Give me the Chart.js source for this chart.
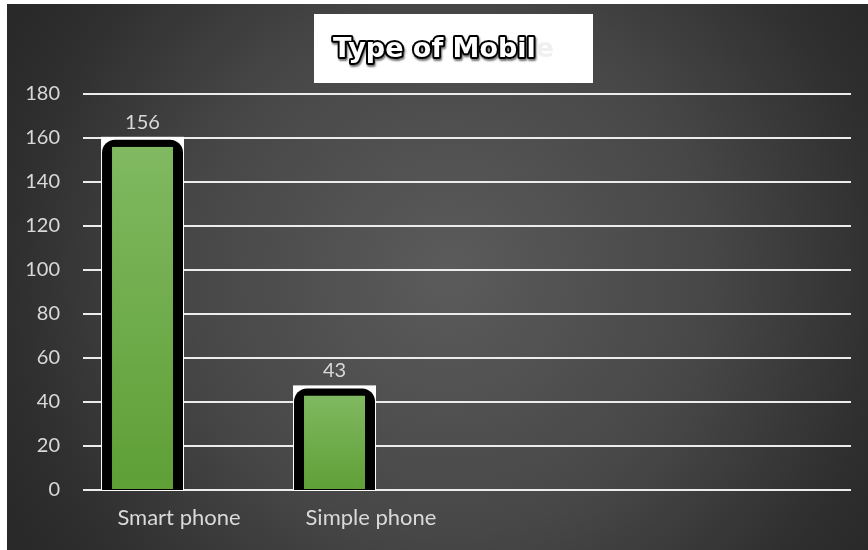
<!DOCTYPE html>
<html>
<head>
<meta charset="utf-8">
<script src="https://cdn.jsdelivr.net/npm/chart.js@4/dist/chart.umd.min.js"></script>
<style>
  html, body { margin: 0; padding: 0; background: #ffffff; }
  #wrap { position: absolute; left: 7px; top: 4px; width: 861px; height: 546px; }
</style>
</head>
<body>
<div id="wrap"><canvas id="c" width="861" height="546"></canvas></div>
<script>
// ---- data ----
const titleText = "Type of Mobile";
const categories = ["Smart phone", "Simple phone", "", ""];
const mobileCounts = [156, 43, null, null];
const spacerSeries = [null, null, null, null];
const yTicks = [0, 20, 40, 60, 80, 100, 120, 140, 160, 180];

const LABEL_FONT = 'Lato, "Open Sans", sans-serif';

const backgroundPlugin = {
  id: 'bg',
  beforeDraw(chart) {
    const ctx = chart.ctx, w = chart.width, h = chart.height;
    ctx.save();
    const g = ctx.createRadialGradient(443, 270, 0, 443, 270, 520);
    g.addColorStop(0, '#5b5b5b');
    g.addColorStop(0.5, '#474747');
    g.addColorStop(0.85, '#2e2e2e');
    g.addColorStop(1, '#282828');
    ctx.fillStyle = g;
    ctx.fillRect(0, 0, w, h);
    ctx.restore();
  }
};

function roundTopRect(ctx, x, y, w, h, r) {
  ctx.beginPath();
  ctx.moveTo(x, y + h);
  ctx.lineTo(x, y + r);
  ctx.arcTo(x, y, x + r, y, r);
  ctx.lineTo(x + w - r, y);
  ctx.arcTo(x + w, y, x + w, y + r, r);
  ctx.lineTo(x + w, y + h);
  ctx.closePath();
}

const barFramePlugin = {
  id: 'barFrame',
  beforeDatasetsDraw(chart) {
    const ctx = chart.ctx;
    const meta = chart.getDatasetMeta(0);
    ctx.save();
    meta.data.forEach((bar, i) => {
      if (mobileCounts[i] == null) return;
      const p = bar.getProps(['x', 'y', 'base', 'width'], true);
      const left = p.x - p.width / 2;
      ctx.fillStyle = '#ffffff';
      ctx.fillRect(left - 6, p.y - 10, p.width + 12, p.base - p.y + 12);
      ctx.fillStyle = '#000000';
      roundTopRect(ctx, left - 5, p.y - 7, p.width + 10, p.base - p.y + 8, 13);
      ctx.fill();
    });
    ctx.restore();
  },
  afterDatasetsDraw(chart) {
    const ctx = chart.ctx;
    const meta = chart.getDatasetMeta(0);
    ctx.save();
    ctx.font = '20px ' + LABEL_FONT;
    ctx.fillStyle = '#d9d9d9';
    ctx.textAlign = 'center';
    ctx.textBaseline = 'alphabetic';
    meta.data.forEach((bar, i) => {
      if (mobileCounts[i] == null) return;
      const p = bar.getProps(['x', 'y'], true);
      ctx.fillText(String(mobileCounts[i]), p.x, p.y - 18);
    });
    ctx.restore();
  }
};

const titlePlugin = {
  id: 'titleBox',
  afterDraw(chart) {
    const ctx = chart.ctx;
    ctx.save();
    ctx.fillStyle = '#ffffff';
    ctx.fillRect(307, 10, 279, 69);
    ctx.font = 'bold 27px "DejaVu Sans", sans-serif';
    ctx.textBaseline = 'alphabetic';
    ctx.textAlign = 'left';
    const main = titleText.slice(0, -1);
    const last = titleText.slice(-1);
    const x = 326, y = 53;
    ctx.lineJoin = 'round';
    ctx.strokeStyle = '#000000';
    ctx.lineWidth = 4;
    ctx.shadowColor = 'rgba(0,0,0,0.55)';
    ctx.shadowOffsetX = 1;
    ctx.shadowOffsetY = 2;
    ctx.shadowBlur = 2;
    ctx.strokeText(main, x, y);
    ctx.shadowColor = 'transparent';
    ctx.fillStyle = '#ffffff';
    ctx.fillText(main, x, y);
    const mw = ctx.measureText(main).width;
    ctx.fillStyle = '#f0f0f0';
    ctx.fillText(last, x + mw, y);
    ctx.restore();
  }
};

new Chart(document.getElementById('c'), {
  type: 'bar',
  data: {
    labels: categories,
    datasets: [
      {
        label: 'Type of Mobile',
        data: mobileCounts,
        backgroundColor: (c) => {
          const chart = c.chart;
          if (c.type !== 'data' || c.raw == null || !chart.chartArea) return '#70ad47';
          const ys = chart.scales.y;
          const top = ys.getPixelForValue(c.raw);
          const bot = ys.getPixelForValue(0);
          const g = chart.ctx.createLinearGradient(0, top, 0, bot);
          g.addColorStop(0, '#80b961');
          g.addColorStop(1, '#5f9f36');
          return g;
        },
        borderColor: '#000000',
        borderWidth: { top: 0, left: 5, right: 5, bottom: 0 },
        borderSkipped: 'bottom',
        inflateAmount: 0,
        categoryPercentage: 0.76,
        barPercentage: 0.973
      },
      {
        label: '',
        data: spacerSeries,
        backgroundColor: 'rgba(0,0,0,0)',
        categoryPercentage: 0.76,
        barPercentage: 0.973
      }
    ]
  },
  options: {
    responsive: false,
    animation: false,
    devicePixelRatio: 1,
    layout: { padding: { top: 90, right: 17, left: 0, bottom: 0 } },
    plugins: {
      legend: { display: false },
      title: { display: false },
      tooltip: { enabled: false }
    },
    scales: {
      x: {
        grid: { display: false, drawTicks: false },
        border: { display: false },
        ticks: {
          color: '#d9d9d9',
          font: { family: LABEL_FONT, size: 22 },
          padding: 15,
          maxRotation: 0,
          autoSkip: false
        },
        afterFit(scale) { scale.height = 60; }
      },
      y: {
        min: 0,
        max: 180,
        afterBuildTicks(scale) { scale.ticks = yTicks.map(v => ({ value: v })); },
        grid: { color: '#ececec', lineWidth: 2, drawTicks: false },
        border: { display: false },
        ticks: {
          color: '#d9d9d9',
          font: { family: LABEL_FONT, size: 20 },
          padding: 23
        },
        afterFit(scale) { scale.width = 76; }
      }
    }
  },
  plugins: [backgroundPlugin, barFramePlugin, titlePlugin]
});
</script>
</body>
</html>
